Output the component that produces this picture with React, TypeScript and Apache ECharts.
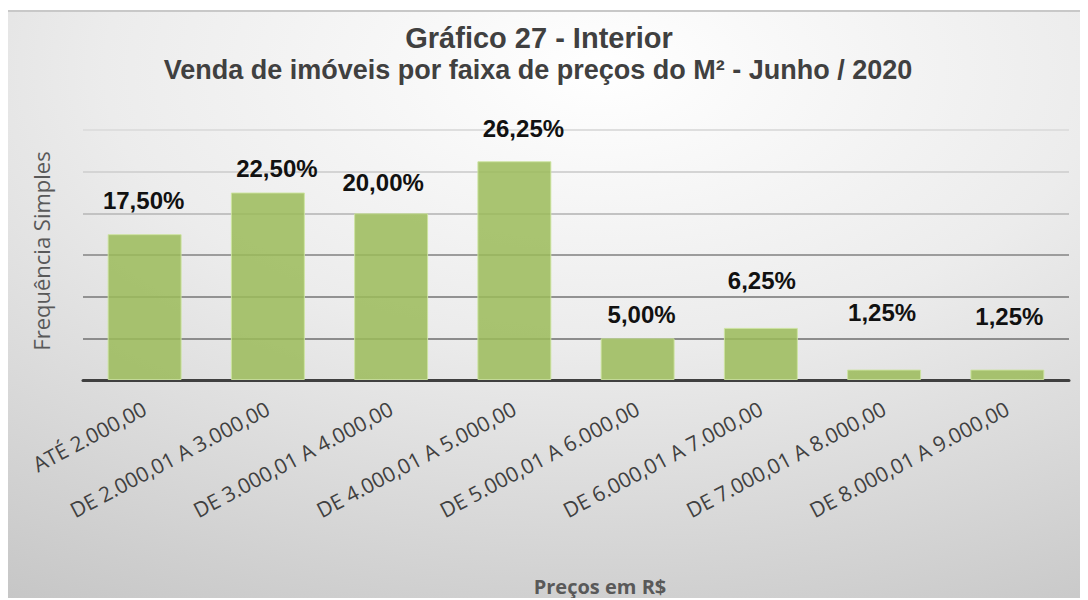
import React, { useEffect, useRef } from "react";
import * as echarts from "echarts";

const categories = [
  "ATÉ 2.000,00",
  "DE 2.000,01 A 3.000,00",
  "DE 3.000,01 A 4.000,00",
  "DE 4.000,01 A 5.000,00",
  "DE 5.000,01 A 6.000,00",
  "DE 6.000,01 A 7.000,00",
  "DE 7.000,01 A 8.000,00",
  "DE 8.000,01 A 9.000,00",
];
const values = [17.5, 22.5, 20.0, 26.25, 5.0, 6.25, 1.25, 1.25];

// label placement styling (as in the source, labels were hand-placed)
const labelGap = [22, 12, 19, 21, 12, 35, 45, 41];
const labelShift = [-1, 9, -8, 9, 4, 1, -2, 2];

const titleText = "Gráfico 27 - Interior";
const subtitleText = "Venda de imóveis por faixa de preços do M² - Junho / 2020";
const yName = "Frequência Simples";
const xName = "Preços em R$";

const W = 1080;
const H = 590;

export default function App() {
  const ref = useRef<HTMLDivElement>(null);
  useEffect(() => {
    if (!ref.current) return;
    const chart = echarts.init(ref.current, undefined, { renderer: "svg" });
    const fmt = (v: number) => v.toFixed(2).replace(".", ",") + "%";
    chart.setOption({
      animation: false,
      graphic: [
        {
          type: "rect",
          silent: true,
          z: -100,
          shape: { x: 0, y: 0, width: W, height: H },
          style: {
            fill: new echarts.graphic.RadialGradient(0.55, 0.1, 1.15, [
              { offset: 0, color: "#ffffff" },
              { offset: 0.4, color: "#ececec" },
              { offset: 1, color: "#c0c0c0" },
            ]),
          },
        },
        {
          type: "rect",
          silent: true,
          z: -99,
          shape: { x: 0, y: 0, width: W, height: 2 },
          style: { fill: "#c8c8c8" },
        },
        {
          type: "text",
          x: 531,
          y: 28,
          style: {
            text: titleText,
            font: "bold 29px 'Liberation Sans', Arial, sans-serif",
            fill: "#404040",
            textAlign: "center",
            textVerticalAlign: "middle",
          },
        },
        {
          type: "text",
          x: 530,
          y: 60,
          style: {
            text: subtitleText,
            font: "bold 27px 'Liberation Sans', Arial, sans-serif",
            fill: "#404040",
            textAlign: "center",
            textVerticalAlign: "middle",
          },
        },
        {
          type: "text",
          x: 33,
          y: 241,
          rotation: Math.PI / 2,
          style: {
            text: yName,
            font: "22px 'Open Sans', sans-serif",
            fill: "#595959",
            textAlign: "center",
            textVerticalAlign: "middle",
          },
        },
        {
          type: "text",
          x: 592,
          y: 576,
          style: {
            text: xName,
            font: "bold 20px 'Open Sans', sans-serif",
            fill: "#595959",
            textAlign: "center",
            textVerticalAlign: "middle",
          },
        },
      ],
      grid: { left: 75, right: 19, top: 120, bottom: 220 },
      xAxis: {
        type: "category",
        data: categories,
        axisLine: { show: true, lineStyle: { color: "#404040", width: 3 } },
        axisTick: { show: false },
        axisLabel: {
          rotate: 28,
          interval: 0,
          margin: 27,
          fontFamily: "'Open Sans', sans-serif",
          fontSize: 21,
          color: "#404040",
        },
      },
      yAxis: {
        type: "value",
        min: 0,
        max: 30,
        interval: 5,
        axisLabel: { show: false },
        axisLine: { show: false },
        axisTick: { show: false },
        splitLine: {
          show: true,
          lineStyle: {
            width: 2,
            color: ["#404040", "#8c8c8c", "#929292", "#9c9c9c", "#c2c2c2", "#d4d4d4", "#dedede"],
          },
        },
      },
      series: [
        {
          type: "bar",
          barWidth: "60%",
          data: values.map((v, i) => ({
            value: v,
            label: { distance: labelGap[i], offset: [labelShift[i], 0] },
          })),
          itemStyle: {
            color: "rgba(155,187,89,0.85)",
            borderColor: "rgba(205,228,160,0.9)",
            borderWidth: 1,
          },
          label: {
            show: true,
            position: "top",
            formatter: (p: any) => fmt(p.value),
            fontFamily: "'Liberation Sans', Arial, sans-serif",
            fontWeight: "bold",
            fontSize: 24,
            color: "#111111",
          },
        },
      ],
    });
    return () => chart.dispose();
  }, []);
  return (
    <div
      ref={ref}
      style={{ width: W, height: H, position: "relative", top: 2 }}
    />
  );
}
